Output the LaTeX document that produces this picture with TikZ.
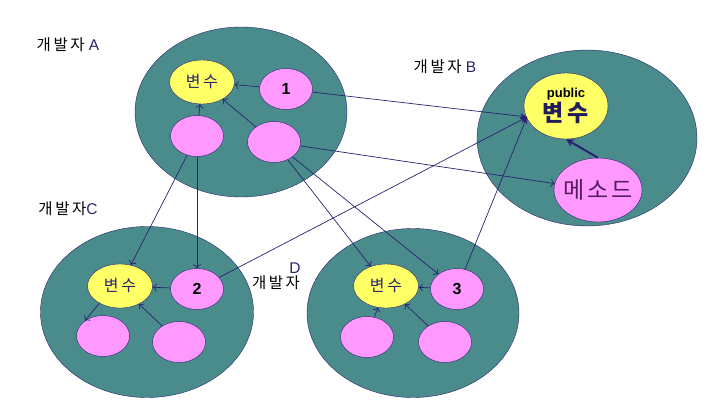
\documentclass[tikz,border=0pt]{standalone}
\usepackage{fontspec}
\setmainfont{Liberation Sans}
\newfontfamily\kr{Noto Sans CJK KR}
\usetikzlibrary{shapes.geometric, arrows.meta}
\definecolor{devteal}{RGB}{74,140,140}
\definecolor{varyellow}{RGB}{255,255,102}
\definecolor{fnpink}{RGB}{255,153,255}
\definecolor{linknavy}{RGB}{40,36,110}

\begin{document}
\begin{tikzpicture}[x=1pt,y=-1pt,
        dev/.style={draw=linknavy,fill=devteal,ellipse,inner sep=0pt},
        var/.style={draw=linknavy,fill=varyellow,ellipse,inner sep=0pt,
        minimum width=65pt,minimum height=44pt,text=linknavy,
        font=\fontsize{16}{18}\selectfont\kr},
        fn/.style={draw=linknavy,fill=fnpink,ellipse,inner sep=0pt,
        minimum width=53pt,minimum height=41pt,
        font=\fontsize{16}{18}\selectfont\bfseries},
        devlabel/.style={font=\fontsize{15.5}{17}\selectfont},
        link/.style={linknavy,-{To[length=4pt,width=8pt]},line width=0.7pt},
        publink/.style={linknavy,-{Stealth[length=7pt,width=6pt]},line width=0.7pt}]
    \useasboundingbox (0,0) rectangle (727,417);
    % developers
    \node[dev,minimum width=212pt,minimum height=170pt] (devA) at (241,112) {};
    \node[dev,minimum width=220pt,minimum height=176pt] (devB) at (587,138) {};
    \node[dev,minimum width=213pt,minimum height=171pt] (devC) at (147,312) {};
    \node[dev,minimum width=212pt,minimum height=169pt] (devD) at (413,313) {};
    \node[devlabel] (labA) at (68,45) {{\kr 개\,발\,자} \textcolor{linknavy}{A}};
    \node[devlabel] (labB) at (445,67) {{\kr 개\,발\,자} \textcolor{linknavy}{B}};
    \node[devlabel] (labC) at (68,209) {{\kr 개\,발\,자}\textcolor{linknavy}{C}};
    \node[devlabel,text=linknavy] (labD) at (295,268) {D};
    \node[devlabel] (labDk) at (276,283) {\kr 개\,발\,자};
    % A
    \node[var] (varA) at (202,82) {변\,수};
    \node[fn] (one) at (286,89) {1};
    \node[fn] (a1) at (197,136) {};
    \node[fn] (a2) at (274,142) {};
    % B
    \node[var,minimum width=84pt,minimum height=66pt,text=black,
        align=center,font=\bfseries] (pubvar) at (566,106)
        {\fontsize{13}{13}\selectfont public\\[1pt]
        \fontsize{23}{24}\selectfont\kr\textcolor{linknavy!80!black}{변\,수}};
    \node[fn,minimum width=88pt,minimum height=64pt,text=linknavy!70!purple,
        font=\fontsize{23}{25}\selectfont\kr] (method) at (598,190)
        {\makebox[58pt]{메\hspace{3pt}소\hspace{3pt}드}};
    \coordinate (pubin) at (527,117);
    % C
    \node[var] (varC) at (120,286) {변\,수};
    \node[fn] (two) at (197,289) {2};
    \node[fn] (c1) at (103,336) {};
    \node[fn] (c2) at (179,342) {};
    % D
    \node[var] (varD) at (386,286) {변\,수};
    \node[fn] (three) at (457,289) {3};
    \node[fn] (d1) at (367,337) {};
    \node[fn] (d2) at (445,342) {};

    \draw[link] (one) -- (varA);
    \draw[link] (a1) -- (varA);
    \draw[link] (a2) -- (varA);
    \draw[link] (a1) -- (varC);
    \draw[link] (a1) -- (two);
    \draw[link] (a2) -- (varD);
    \draw[link] (a2) -- (three);
    \draw[link] (a2) -- (method);
    \draw[publink] (one) -- (pubin);
    \draw[publink] (two) -- (pubin);
    \draw[publink] (three) -- (pubin);
    \draw[linknavy,line width=2pt,-{Stealth[length=8pt,width=8pt]}] (method.north) -- (pubvar.south);
    \draw[link] (two) -- (varC);
    \draw[link] (varC.220) -- (c1.140);
    \draw[link] (c2) -- (varC);
    \draw[link] (three) -- (varD);
    \draw[link] (d1) -- (varD);
    \draw[link] (d2) -- (varD);
\end{tikzpicture}
\end{document}
